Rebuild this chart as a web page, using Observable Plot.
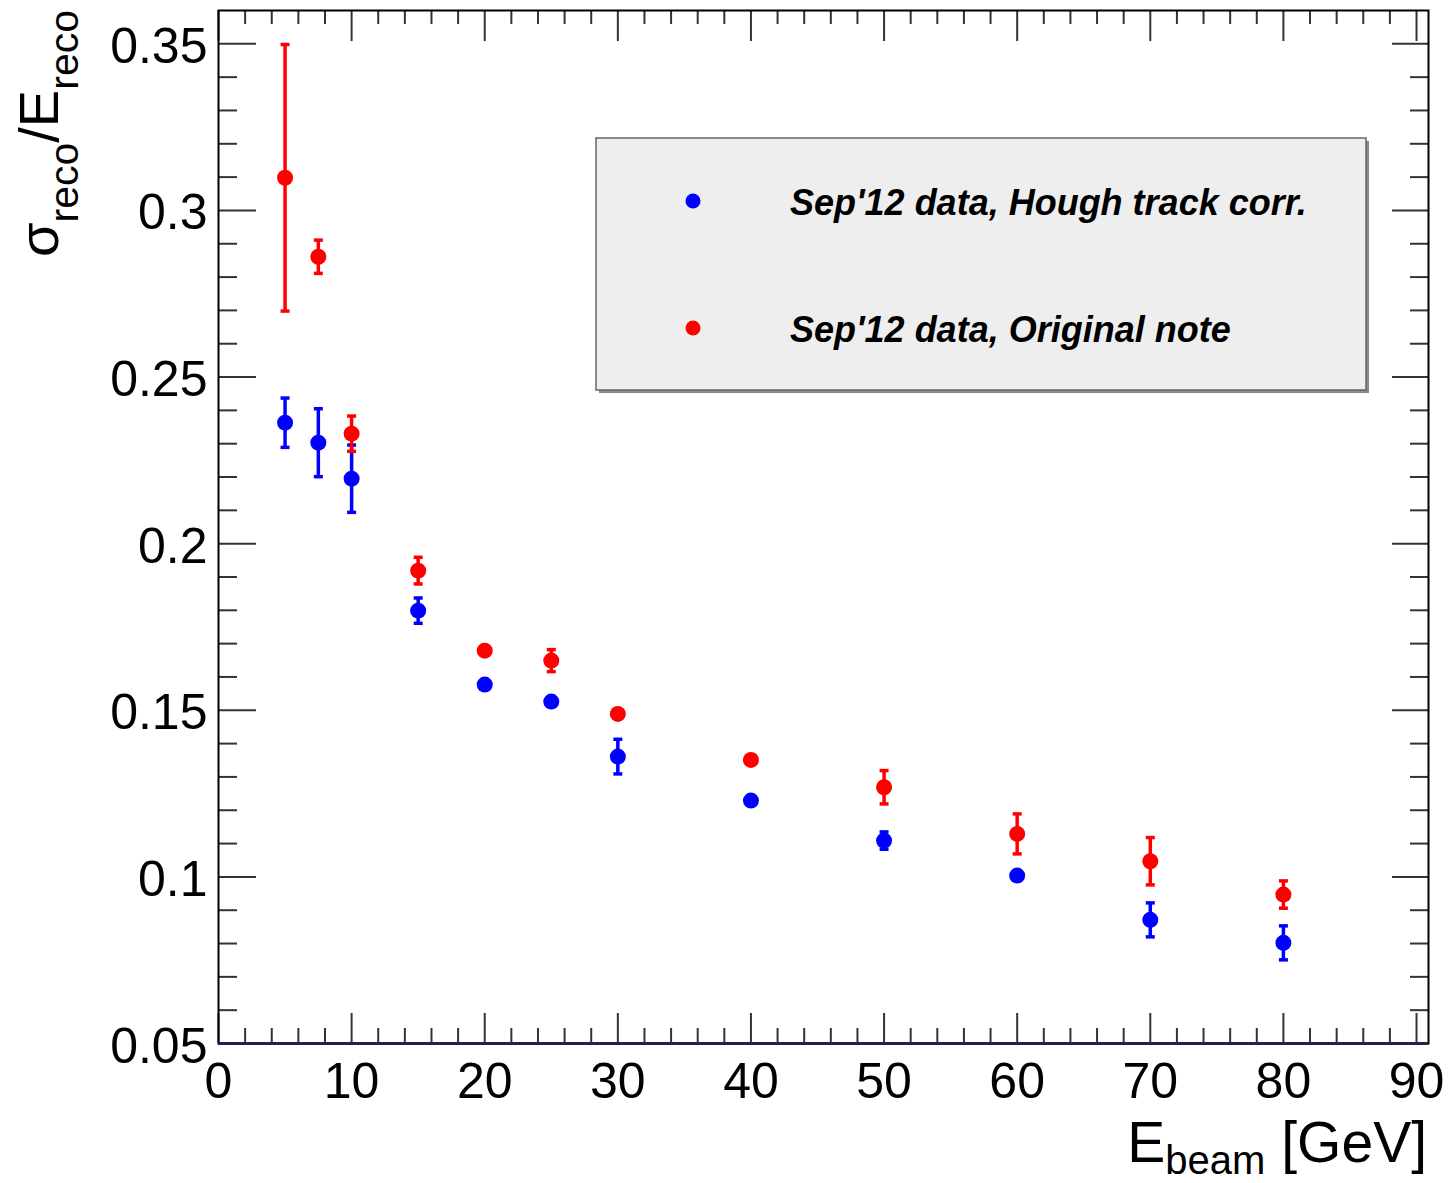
<!DOCTYPE html>
<html>
<head>
<meta charset="utf-8">
<script src="https://cdn.jsdelivr.net/npm/d3@7"></script>
<script src="https://cdn.jsdelivr.net/npm/@observablehq/plot@0.6"></script>
<style>
  html, body { margin: 0; padding: 0; background: #fff; }
  #chart svg { display: block; }
</style>
</head>
<body>
<div id="chart"></div>
<script>
// Beam energies [GeV]
const energies = [5, 7.5, 10, 15, 20, 25, 30, 40, 50, 60, 70, 80];
// Sep'12 data, Hough track corr. (blue)
const houghVal = [0.2363, 0.2303, 0.2195, 0.1799, 0.1577, 0.1526, 0.1361, 0.1229, 0.1109, 0.1004, 0.0871, 0.0802];
const houghErr = [0.0074, 0.0102, 0.0101, 0.0038, 0.0015, 0.0015, 0.0052, 0.0015, 0.0026, 0.0015, 0.0051, 0.0051];
// Sep'12 data, Original note (red)
const origVal = [0.3098, 0.2861, 0.2330, 0.1919, 0.1679, 0.1649, 0.1489, 0.1351, 0.1269, 0.1129, 0.1047, 0.0947];
const origErr = [0.0400, 0.0050, 0.0053, 0.0040, 0.0015, 0.0033, 0.0015, 0.0015, 0.0050, 0.0060, 0.0071, 0.0041];

const seriesNames = ["Sep'12 data, Hough track corr.", "Sep'12 data, Original note"];
const seriesColors = ["#0000ff", "#ff0000"];

// Tick labels
const xMajor = [0, 10, 20, 30, 40, 50, 60, 70, 80, 90];
const yMajor = [0.05, 0.1, 0.15, 0.2, 0.25, 0.3, 0.35];
const xMinor = d3.range(0, 91, 2).filter(v => v % 10 !== 0);
const yMinor = d3.range(6, 36).filter(i => i % 5 !== 0).map(i => i / 100);

const series = [
  energies.map((e, i) => ({e, v: houghVal[i], err: houghErr[i], s: 0})),
  energies.map((e, i) => ({e, v: origVal[i], err: origErr[i], s: 1}))
];

const W = 1453, H = 1183;
const mL = 218, mR = 25, mT = 10, mB = 140;
const pw = W - mL - mR, ph = H - mT - mB;

const capSymbol = {
  draw(context, size) {
    const r = Math.sqrt(size / Math.PI);
    context.moveTo(-r, 0);
    context.lineTo(r, 0);
  }
};

const radius = 8;
function seriesMarks(data, color) {
  const visible = data.filter(d => d.err > 0.00225);
  return [
    Plot.ruleX(visible, {x: "e", y1: d => d.v - d.err, y2: d => d.v + d.err, stroke: color, strokeWidth: 3.5}),
    Plot.dot(visible, {x: "e", y: d => d.v - d.err, symbol: capSymbol, r: 4.5, stroke: color, strokeWidth: 3.5}),
    Plot.dot(visible, {x: "e", y: d => d.v + d.err, symbol: capSymbol, r: 4.5, stroke: color, strokeWidth: 3.5}),
    Plot.dot(data, {x: "e", y: "v", r: radius, fill: color, stroke: null})
  ];
}

const tickStroke = "#333";
const fmt = d => String(+d.toFixed(2));

const chart = Plot.plot({
  width: W, height: H,
  marginLeft: mL, marginRight: mR, marginTop: mT, marginBottom: mB,
  style: {fontFamily: "'Liberation Sans', Arial, Helvetica, sans-serif", color: "#000", background: "#fff", overflow: "visible"},
  x: {domain: [0, 90.9], label: null},
  y: {domain: [0.05, 0.36], label: null},
  marks: [
    // minor/major ticks, all four sides (inward)
    Plot.tickY(yMajor, {insetRight: pw - 38, stroke: tickStroke, strokeWidth: 2}),
    Plot.tickY(yMinor, {insetRight: pw - 19, stroke: tickStroke, strokeWidth: 2}),
    Plot.tickY(yMajor, {insetLeft: pw - 36, stroke: tickStroke, strokeWidth: 2}),
    Plot.tickY(yMinor, {insetLeft: pw - 18, stroke: tickStroke, strokeWidth: 2}),
    Plot.tickX(xMajor, {insetTop: ph - 30, stroke: tickStroke, strokeWidth: 2}),
    Plot.tickX(xMinor, {insetTop: ph - 15, stroke: tickStroke, strokeWidth: 2}),
    Plot.tickX(xMajor, {insetBottom: ph - 31, stroke: tickStroke, strokeWidth: 2}),
    Plot.tickX(xMinor, {insetBottom: ph - 14, stroke: tickStroke, strokeWidth: 2}),
    Plot.frame({stroke: "#000", strokeWidth: 2}),
    Plot.ruleY([0.05], {stroke: "#22224a", strokeWidth: 3}),
    Plot.axisY(yMajor, {tickSize: 0, tickPadding: 11, fontSize: 50, tickFormat: fmt, dy: 3, label: null}),
    Plot.axisX(xMajor, {tickSize: 0, tickPadding: 19, fontSize: 50, tickFormat: fmt, label: null}),
    ...seriesMarks(series[0], seriesColors[0]),
    ...seriesMarks(series[1], seriesColors[1])
  ]
});

const svg = d3.select(chart);
const ff = "'Liberation Sans', Arial, Helvetica, sans-serif";

// Legend
const lg = svg.append("g").attr("font-family", ff).attr("text-anchor", "start");
lg.append("rect").attr("x", 599).attr("y", 141).attr("width", 770).attr("height", 252).attr("fill", "#8a8a8a");
lg.append("rect").attr("x", 596).attr("y", 138).attr("width", 770).attr("height", 252)
  .attr("fill", "#eeeeee").attr("stroke", "#666").attr("stroke-width", 1.5);
const rowsY = [201, 328];
seriesNames.forEach((name, i) => {
  lg.append("circle").attr("cx", 693).attr("cy", rowsY[i]).attr("r", 7.5).attr("fill", seriesColors[i]);
  lg.append("text").attr("x", 790).attr("y", rowsY[i] + 14).attr("text-anchor", "start")
    .attr("font-size", 36).attr("font-weight", "bold").attr("font-style", "italic")
    .attr("fill", "#000").text(name);
});

// X axis title: E_beam [GeV]
const xt = svg.append("text").attr("font-family", ff).attr("fill", "#000")
  .attr("x", 1427).attr("y", 1162).attr("text-anchor", "end").attr("font-size", 57);
xt.append("tspan").text("E");
xt.append("tspan").attr("font-size", 40).attr("dy", 12).text("beam");
xt.append("tspan").attr("dy", -12).text("\u00A0[GeV]");

// Y axis title: sigma_reco / E_reco
const yt = svg.append("text").attr("font-family", ff).attr("fill", "#000")
  .attr("transform", "translate(58,10) rotate(-90)").attr("text-anchor", "end").attr("font-size", 56);
yt.append("tspan").text("σ");
yt.append("tspan").attr("font-size", 41).attr("dy", 20).text("reco");
yt.append("tspan").attr("dy", -20).text("/E");
yt.append("tspan").attr("font-size", 41).attr("dy", 20).text("reco");

document.getElementById("chart").appendChild(chart);
</script>
</body>
</html>
